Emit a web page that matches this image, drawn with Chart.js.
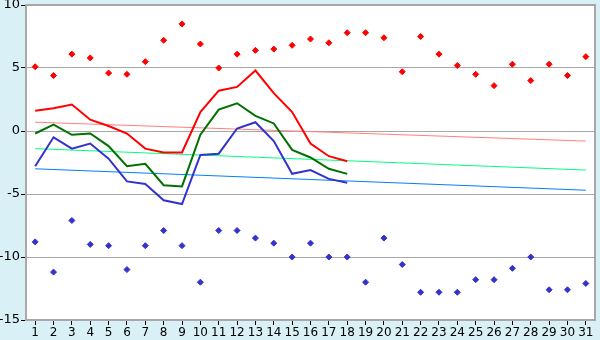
<!DOCTYPE html>
<html>
<head>
<meta charset="utf-8">
<script src="https://cdn.jsdelivr.net/npm/chart.js@4"></script>
<style>
  html, body { margin: 0; padding: 0; background: #d9f0f7; }
  #wrap { width: 600px; height: 340px; }
</style>
</head>
<body>
<div id="wrap"><canvas id="chart" width="600" height="340"></canvas></div>
<script>
const days = ['1','2','3','4','5','6','7','8','9','10','11','12','13','14','15','16',
              '17','18','19','20','21','22','23','24','25','26','27','28','29','30','31'];

// daily max / min (points)
const dayMax = [5.1, 4.4, 6.1, 5.8, 4.6, 4.5, 5.5, 7.2, 8.5, 6.9, 5.0, 6.1, 6.4, 6.5, 6.8, 7.3,
                7.0, 7.8, 7.8, 7.4, 4.7, 7.5, 6.1, 5.2, 4.5, 3.6, 5.3, 4.0, 5.3, 4.4, 5.9];
const dayMin = [-8.8, -11.2, -7.1, -9.0, -9.1, -11.0, -9.1, -7.9, -9.1, -12.0, -7.9, -7.9, -8.5, -8.9, -10.0, -8.9,
                -10.0, -10.0, -12.0, -8.5, -10.6, -12.8, -12.8, -12.8, -11.8, -11.8, -10.9, -10.0, -12.6, -12.6, -12.1];

// this year's lines (only first 18 days)
const lineMax  = [1.6, 1.8, 2.1, 0.9, 0.4, -0.2, -1.4, -1.7, -1.7, 1.5, 3.2, 3.5, 4.8, 3.0, 1.5, -1.0, -2.0, -2.4];
const lineMean = [-0.2, 0.5, -0.3, -0.2, -1.2, -2.8, -2.6, -4.3, -4.4, -0.3, 1.7, 2.2, 1.2, 0.6, -1.5, -2.1, -3.0, -3.4];
const lineMin  = [-2.8, -0.5, -1.4, -1.0, -2.2, -4.0, -4.2, -5.5, -5.8, -1.9, -1.8, 0.2, 0.7, -0.8, -3.4, -3.1, -3.8, -4.1];

// normal trend lines: value on day 1 and day 31
const normMax  = [0.7, -0.8];
const normMean = [-1.4, -3.1];
const normMin  = [-3.0, -4.7];

const yTicks = [-15, -10, -5, 0, 5, 10];

function trend(ends) {
  return [{ x: days[0], y: ends[0] }, { x: days[days.length - 1], y: ends[1] }];
}

const plotBg = {
  id: 'plotBg',
  beforeDraw(chart) {
    const { ctx, chartArea: a } = chart;
    ctx.save();
    ctx.fillStyle = '#ffffff';
    ctx.fillRect(a.left, a.top, a.right - a.left, a.bottom - a.top);
    ctx.restore();
  },
  afterDatasetsDraw(chart) {
    const { ctx, chartArea: a } = chart;
    ctx.save();
    ctx.strokeStyle = '#a8a8a8';
    ctx.lineWidth = 2;
    ctx.beginPath();
    ctx.moveTo(a.left, a.top);
    ctx.lineTo(a.right, a.top);
    ctx.lineTo(a.right, a.bottom);
    ctx.stroke();
    ctx.restore();
  }
};

const font = { family: 'DejaVu Sans', size: 12 };

new Chart(document.getElementById('chart'), {
  type: 'line',
  data: {
    labels: days,
    datasets: [
      { data: dayMax, showLine: false, pointStyle: 'rectRot', pointRadius: 3,
        backgroundColor: '#ff0000', borderColor: '#ff0000', borderWidth: 1 },
      { data: dayMin, showLine: false, pointStyle: 'rectRot', pointRadius: 3,
        backgroundColor: '#3333cc', borderColor: '#3333cc', borderWidth: 1 },
      { data: lineMax, borderColor: '#ff0000', borderWidth: 2, pointRadius: 0, tension: 0 },
      { data: lineMean, borderColor: '#007000', borderWidth: 2, pointRadius: 0, tension: 0 },
      { data: lineMin, borderColor: '#3333cc', borderWidth: 2, pointRadius: 0, tension: 0 },
      { data: trend(normMax), borderColor: '#ff8080', borderWidth: 1, pointRadius: 0 },
      { data: trend(normMean), borderColor: '#00ff80', borderWidth: 1, pointRadius: 0 },
      { data: trend(normMin), borderColor: '#0080ff', borderWidth: 1, pointRadius: 0 }
    ]
  },
  options: {
    responsive: false,
    animation: false,
    layout: { padding: { top: 5, right: 5, left: 0, bottom: 0 } },
    plugins: { legend: { display: false }, tooltip: { enabled: false } },
    scales: {
      x: {
        offset: true,
        grid: { offset: false, drawOnChartArea: false, drawTicks: true, tickLength: 5, tickColor: '#000' },
        border: { color: '#a8a8a8', width: 2 },
        ticks: { color: '#000', font: font, maxRotation: 0, autoSkip: false, padding: 1 },
        afterFit: s => { s.height = 20; }
      },
      y: {
        min: -15,
        max: 10,
        afterBuildTicks: s => { s.ticks = yTicks.map(v => ({ value: v })); },
        grid: { color: '#a8a8a8', lineWidth: 1, tickLength: 5, tickColor: '#000' },
        border: { color: '#a8a8a8', width: 2 },
        ticks: { color: '#000', font: { family: 'DejaVu Sans', size: 13 }, padding: 1 },
        afterFit: s => { s.width = 26; s.paddingTop = 0; s.paddingBottom = 0; }
      }
    }
  },
  plugins: [plotBg]
});
</script>
</body>
</html>
